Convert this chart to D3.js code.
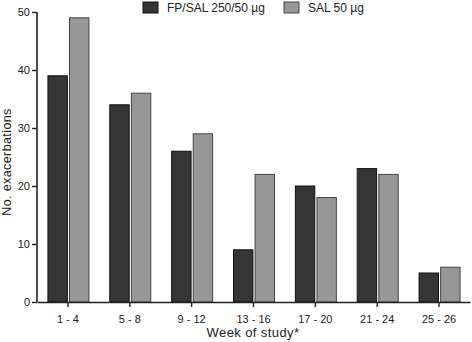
<!DOCTYPE html>
<html>
<head>
<meta charset="utf-8">
<script src="https://cdn.jsdelivr.net/npm/d3@7"></script>
<style>
  body { margin: 0; background: #fff; }
  text { font-family: Arial, "Liberation Sans", sans-serif; fill: #222; }
</style>
</head>
<body>
<div id="chart"></div>
<script>
// data
let weeks = ["1 - 4", "5 - 8", "9 - 12", "13 - 16", "17 - 20", "21 - 24", "25 - 26"];
let fpsal = [39, 34, 26, 9, 20, 23, 5];
let sal = [49, 36, 29, 22, 18, 22, 6];
let seriesNames = ["FP/SAL 250/50 \u00b5g", "SAL 50 \u00b5g"];
let yTicks = [0, 10, 20, 30, 40, 50];

let width = 472, height = 342;
let margin = {top: 12, right: 2, bottom: 40, left: 37};

let svg = d3.select("#chart")
  .append("svg")
    .attr("width", width)
    .attr("height", height);

let x = d3.scaleBand()
  .domain(weeks)
  .range([margin.left, width - margin.right])
  .padding(0);

let y = d3.scaleLinear()
  .domain([0, 50])
  .range([height - margin.bottom, margin.top]);

let inner = d3.scaleBand()
  .domain([0, 1])
  .range([-20, 21])
  .paddingInner(0.1);

let fills = ["#353535", "#979797"];
let strokes = ["#111", "#444"];

let rows = weeks.map((w, i) => ({week: w, values: [fpsal[i], sal[i]]}));

let groups = svg.append("g")
  .selectAll("g")
  .data(rows)
  .join("g")
    .attr("transform", d => `translate(${x(d.week) + x.bandwidth() / 2},0)`);

groups.selectAll("rect")
  .data(d => d.values.map((v, k) => ({k: k, v: v})))
  .join("rect")
    .attr("x", d => inner(d.k))
    .attr("y", d => y(d.v))
    .attr("width", inner.bandwidth())
    .attr("height", d => y(0) - y(d.v))
    .attr("fill", d => fills[d.k])
    .attr("stroke", d => strokes[d.k])
    .attr("stroke-width", 1);

// axes
let yAxis = svg.append("g")
  .attr("transform", `translate(${margin.left},0)`)
  .call(d3.axisLeft(y).tickValues(yTicks).tickSize(5).tickPadding(2));

let xAxis = svg.append("g")
  .attr("transform", `translate(0,${y(0)})`)
  .call(d3.axisBottom(x).tickSize(5).tickPadding(8).tickSizeOuter(0));

[yAxis, xAxis].forEach(a => {
  a.select(".domain").attr("stroke", "#222").attr("stroke-width", 1.6);
  a.selectAll(".tick line").attr("stroke", "#222").attr("stroke-width", 1.4);
  a.selectAll(".tick text")
    .style("font-size", "11px")
    .style("font-family", "Arial, 'Liberation Sans', sans-serif")
    .attr("fill", "#222");
});
yAxis.select(".domain").attr("d", `M0,${y(50)}V${y(0)}`);

// axis titles
svg.append("text")
  .attr("transform", `translate(11,${(y(0) + y(50)) / 2 + 5}) rotate(-90)`)
  .attr("text-anchor", "middle")
  .style("font-size", "12.5px")
  .style("letter-spacing", "0.4px")
  .text("No. exacerbations");

svg.append("text")
  .attr("x", 253)
  .attr("y", 337)
  .attr("text-anchor", "middle")
  .style("font-size", "13px")
  .style("letter-spacing", "0.4px")
  .text("Week of study*");

// legend
let legendX = [143, 284];
let legend = svg.append("g")
  .selectAll("g")
  .data(seriesNames)
  .join("g")
    .attr("transform", (d, i) => `translate(${legendX[i]},2)`);

legend.append("rect")
  .attr("width", 15)
  .attr("height", 11)
  .attr("fill", (d, i) => fills[i])
  .attr("stroke", (d, i) => strokes[i]);

legend.append("text")
  .attr("x", 24)
  .attr("y", 10)
  .style("font-size", "12px")
  .text(d => d);
</script>
</body>
</html>
